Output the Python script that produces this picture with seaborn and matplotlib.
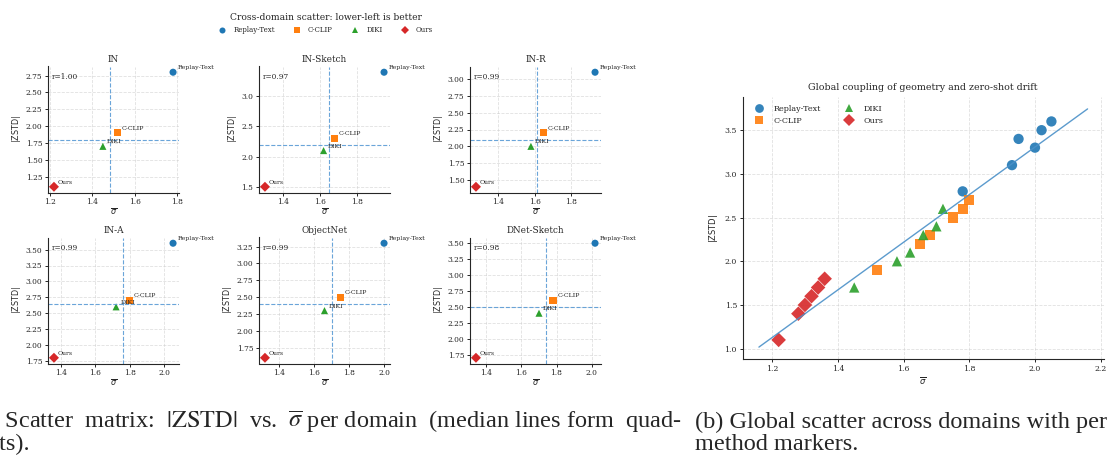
import matplotlib
matplotlib.use("Agg")
import matplotlib.pyplot as plt
import seaborn as sns
import numpy as np
import pandas as pd

# ---- data ----
methods = ["Replay-Text", "C-CLIP", "DIKI", "Ours"]
domains = ["IN", "IN-Sketch", "IN-R", "IN-A", "ObjectNet", "DNet-Sketch"]

# sigma-bar per domain, one list per method (domain order as above)
sigma_replay = [1.78, 1.95, 1.93, 2.05, 2.00, 2.02]
sigma_cclip = [1.52, 1.68, 1.65, 1.80, 1.75, 1.78]
sigma_diki = [1.45, 1.62, 1.58, 1.72, 1.66, 1.70]
sigma_ours = [1.22, 1.30, 1.28, 1.36, 1.32, 1.34]

# |ZSTD| per domain
zstd_replay = [2.80, 3.40, 3.10, 3.60, 3.30, 3.50]
zstd_cclip = [1.90, 2.30, 2.20, 2.70, 2.50, 2.60]
zstd_diki = [1.70, 2.10, 2.00, 2.60, 2.30, 2.40]
zstd_ours = [1.10, 1.50, 1.40, 1.80, 1.60, 1.70]

colors = {"Replay-Text": "#1f77b4", "C-CLIP": "#ff7f0e", "DIKI": "#2ca02c", "Ours": "#d62728"}
markers = {"Replay-Text": "o", "C-CLIP": "s", "DIKI": "^", "Ours": "D"}

rows = []
for m, xs, ys in zip(methods,
                     [sigma_replay, sigma_cclip, sigma_diki, sigma_ours],
                     [zstd_replay, zstd_cclip, zstd_diki, zstd_ours]):
    for d, x, y in zip(domains, xs, ys):
        rows.append({"method": m, "domain": d, "sigma": x, "zstd": y})
df = pd.DataFrame(rows)

# ---- figure ----
sns.set_theme(style="ticks")
plt.rcParams["font.family"] = ["DejaVu Serif"]
plt.rcParams["axes.linewidth"] = 0.8

W, H = 1107, 457
fig = plt.figure(figsize=(W / 100, H / 100), dpi=100)


def px_box(left, top, w, h):
    return [left / W, 1 - (top + h) / H, w / W, h / H]


def style_ax(ax, tick_fs):
    sns.despine(ax=ax)
    ax.grid(True, ls="--", lw=0.6, color="#cccccc", alpha=0.6)
    ax.set_axisbelow(True)
    ax.tick_params(labelsize=tick_fs, length=2.5, width=0.7, pad=1.5)


xlab = r"$\overline{\sigma}$"
ylab = r"$|\mathrm{ZSTD}|$"

lefts = [48, 259, 470]
tops = [66.5, 237.5]
first_ax = None
for i, dom in enumerate(domains):
    ax = fig.add_axes(px_box(lefts[i % 3], tops[i // 3], 131, 126))
    sub = df[df["domain"] == dom]
    sns.scatterplot(data=sub, x="sigma", y="zstd", hue="method", style="method",
                    palette=colors, markers=markers, hue_order=methods,
                    s=26, linewidth=0, ax=ax, legend=(i == 0))
    if i == 0:
        first_ax = ax
    ax.axvline(sub["sigma"].median(), color="#5a9bd5", ls="--", lw=0.8, alpha=0.9)
    ax.axhline(sub["zstd"].median(), color="#5a9bd5", ls="--", lw=0.8, alpha=0.9)
    for _, r in sub.iterrows():
        ax.annotate(r["method"], (r["sigma"], r["zstd"]), xytext=(3, 1.5),
                    textcoords="offset points", fontsize=4.5, ha="left", va="bottom",
                    annotation_clip=False)
    rr = np.corrcoef(sub["sigma"], sub["zstd"])[0, 1]
    ax.text(0.03, 0.95, f"r={rr:.2f}", transform=ax.transAxes, fontsize=5.3,
            ha="left", va="top")
    ax.set_title(dom, fontsize=6.4, pad=3)
    ax.set_xlabel(xlab, fontsize=5.8, labelpad=1)
    ax.set_ylabel(ylab, fontsize=5.8, labelpad=2)
    style_ax(ax, 5.4)

# shared legend on top of the matrix
handles, labels = first_ax.get_legend_handles_labels()
first_ax.get_legend().remove()
fig.legend(handles, labels, loc="center", bbox_to_anchor=(324 / W, 1 - 30 / H),
           ncol=4, frameon=False, fontsize=5, markerscale=0.85,
           columnspacing=2.2, handletextpad=0.6)
fig.text(325.5 / W, 1 - 17.5 / H, "Cross-domain scatter: lower-left is better",
         fontsize=6.6, ha="center", va="center")

# ---- global scatter ----
axg = fig.add_axes(px_box(742.5, 97, 361.5, 262))
sns.scatterplot(data=df, x="sigma", y="zstd", hue="method", style="method",
                palette=colors, markers=markers, hue_order=methods,
                s=55, linewidth=0, alpha=0.9, ax=axg)
slope, icpt = np.polyfit(df["sigma"], df["zstd"], 1)
xfit = np.linspace(df["sigma"].min() - 0.06, df["sigma"].max() + 0.11, 50)
axg.plot(xfit, slope * xfit + icpt, color="#4a90c8", lw=1.0, alpha=0.9)
axg.set_title("Global coupling of geometry and zero-shot drift", fontsize=6.8, pad=5)
axg.set_xlabel(xlab, fontsize=6, labelpad=2)
axg.set_ylabel(ylab, fontsize=6, labelpad=3)
style_ax(axg, 5.6)
axg.legend(loc="upper left", ncol=2, frameon=False, fontsize=5.8,
           markerscale=0.85, columnspacing=2.5, handletextpad=0.8,
           labelspacing=0.5, borderaxespad=0.6)

# ---- captions (cropped subfigure captions) ----
cap_kw = dict(fontsize=17.5, family="Liberation Serif", math_fontfamily="stix",
              ha="left", va="baseline")
fig.text(-28 / W, 1 - 428 / H,
         r"(a) Scatter  matrix:  $|\mathrm{ZSTD}|$  vs.  $\overline{\sigma}$ per domain  (median lines form  quad-",
         **cap_kw)
fig.text(-31 / W, 1 - 450 / H, "rants).", **cap_kw)
fig.text(695 / W, 1 - 428 / H, "(b) Global scatter across domains with per-", **cap_kw)
fig.text(695 / W, 1 - 450 / H, "method markers.", **cap_kw)

fig.savefig("out.png", dpi=100)
